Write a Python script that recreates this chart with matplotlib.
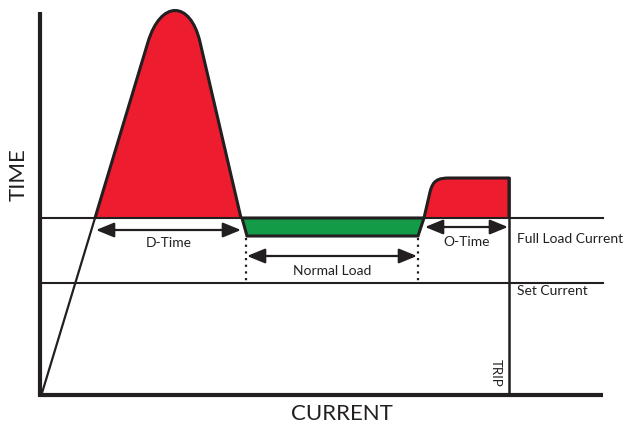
import matplotlib.pyplot as plt
from matplotlib.path import Path
from matplotlib.patches import PathPatch

# diagram drawn in a 630 x 430 canvas, y grows downwards
RED = '#ED1C2E'
GREEN = '#139B48'

# reference lines
full_load_y = 218
set_current_y = 283
axis_x0, axis_x1 = 40, 603
axis_y0, axis_y1 = 12, 395
trip_x = 509
trip_top = 178

# start-up ramp from the origin to the full-load line
ramp_x = [42, 95]
ramp_y = [393, 218]

# D-time peak (line, bezier top, line)
peak_pts = [(95, 218), (148, 42), (160.7, 0), (190.2, 0), (200, 42), (241, 218)]
peak_codes = [Path.MOVETO, Path.LINETO, Path.CURVE4, Path.CURVE4, Path.CURVE4, Path.LINETO]

# normal load trough
green_x = [242, 247, 418, 424]
green_y = [218, 236, 236, 218]

# O-time overload
otime_pts = [(424, 218), (430, 192), (433, 180), (438, 178), (450, 178), (509, 178), (509, 218)]
otime_codes = [Path.MOVETO, Path.LINETO, Path.CURVE4, Path.CURVE4, Path.CURVE4, Path.LINETO, Path.LINETO]

# dimension arrows: (x start, x end, y, label, label y)
arrows = [
    (96, 241, 230, 'D-Time', 243),
    (247, 417, 256, 'Normal Load', 271),
    (425, 508, 227, 'O-Time', 242),
]
dotted_x = [246, 418]

fig = plt.figure(figsize=(6.3, 4.3), dpi=100)
ax = fig.add_axes([0, 0, 1, 1])
ax.set_xlim(0, 630)
ax.set_ylim(430, 0)
ax.axis('off')

font = 'Lato'

# filled shapes
ax.add_patch(PathPatch(Path(peak_pts, peak_codes), facecolor=RED, edgecolor='#231F20',
                       lw=2.2, joinstyle='round', zorder=3))
ax.fill(green_x, green_y, facecolor=GREEN, edgecolor='#231F20', lw=2.2, zorder=3)
ax.add_patch(PathPatch(Path(otime_pts, otime_codes), facecolor=RED, edgecolor='#231F20',
                       lw=2.2, joinstyle='round', zorder=3))

# horizontal reference lines
ax.plot([axis_x0, axis_x1], [full_load_y, full_load_y], color='#231F20', lw=1.5, zorder=4)
ax.plot([axis_x0, axis_x1], [set_current_y, set_current_y], color='#231F20', lw=1.5, zorder=4)
ax.plot([trip_x, trip_x], [trip_top, axis_y1], color='#231F20', lw=1.8, zorder=4)
ax.plot(ramp_x, ramp_y, color='#231F20', lw=1.6, zorder=4)

# axes
ax.plot([axis_x0, axis_x0], [axis_y0, axis_y1 + 1.5], color='#231F20', lw=3, solid_capstyle='butt', zorder=5)
ax.plot([axis_x0 - 1.5, axis_x1], [axis_y1, axis_y1], color='#231F20', lw=3, solid_capstyle='butt', zorder=5)

# dotted guides
for x in dotted_x:
    ax.plot([x, x], [238, 281], color='#231F20', lw=1.6, linestyle=(0, (1, 2)), zorder=4)

# arrows with labels
for x0, x1, y, label, ly in arrows:
    ax.annotate('', xy=(x1, y), xytext=(x0, y),
                arrowprops=dict(arrowstyle='<|-|>,head_length=1.1,head_width=0.45',
                                color='#231F20', lw=1.6, shrinkA=0, shrinkB=0), zorder=4)
    ax.text((x0 + x1) / 2, ly, label, ha='center', va='center', fontsize=10,
            family=font, color='#231F20')

ax.text(517, 239, 'Full Load Current', ha='left', va='center', fontsize=10, family=font, color='#231F20')
ax.text(517, 291, 'Set Current', ha='left', va='center', fontsize=10, family=font, color='#231F20')
ax.text(496, 373, 'TRIP', ha='center', va='center', rotation=-90, fontsize=9.5, family=font, color='#231F20')
ax.text(19, 175, 'TIME', ha='center', va='center', rotation=90, fontsize=16, family=font, color='#231F20')
ax.text(342, 414, 'CURRENT', ha='center', va='center', fontsize=16, family=font, color='#231F20')

fig.savefig('out.png', dpi=100)
